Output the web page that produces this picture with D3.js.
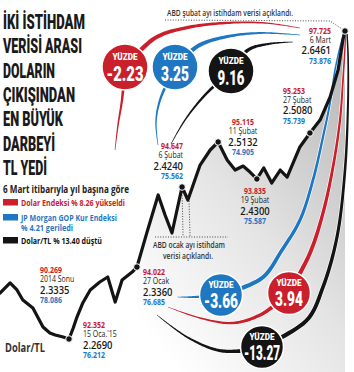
<!DOCTYPE html>
<html>
<head>
<meta charset="utf-8">
<script src="https://cdn.jsdelivr.net/npm/d3@7"></script>
<style>
html, body { margin: 0; padding: 0; background: #fff; }
svg { display: block; }
</style>
</head>
<body>
<svg id="chart" width="354" height="372"></svg>
<script>
// Dolar/TL serisi (gün: 2014 sonundan itibaren)
const gun = [0, 1.9, 3.2, 4.3, 6.2, 7.2, 8.1, 9.4, 10.4, 11.9, 13.0, 13.8, 14.5, 15.6, 17.0, 18.8, 20.3, 21.7, 23.0, 24.9,
    25.8, 27.7, 29.8, 31.1, 32.4, 34.3, 35.4, 37.7, 39.6, 41.1, 42.8, 44.3, 45.8, 47.1, 48.4, 49.7, 51.2, 52.8, 54.1, 56.5,
    58.4, 60.3, 62.2, 63.7, 64.6, 65.0];
const kur = [2.3253, 2.3376, 2.3290, 2.3167, 2.3070, 2.2947, 2.2837, 2.2763, 2.2739, 2.2714, 2.2690, 2.2825, 2.2959, 2.3131,
    2.3290, 2.3388, 2.3449, 2.3143, 2.3412, 2.3510, 2.3571, 2.3998, 2.4453, 2.4208, 2.3988, 2.4551, 2.4392, 2.4820, 2.5004,
    2.5102, 2.4881, 2.4759, 2.4808, 2.4734, 2.4649, 2.4784, 2.4600, 2.4759, 2.4673, 2.5041, 2.5212, 2.5371, 2.5653, 2.5983,
    2.6351, 2.6461];

// etiketli noktalar
const noktaIdx = [0, 10, 20, 25, 29, 34, 40, 45];
const etiketTarih = ["2014 Sonu", "15 Oca.'15", "27 Ocak", "6 Şubat", "11 Şubat", "19 Şubat", "27 Şubat", "6 Mart"];
const dolarEndeksi = [90.269, 92.352, 94.022, 94.647, 95.115, 93.835, 95.253, 97.725];
const dolarTL = [2.3335, 2.2690, 2.3360, 2.4240, 2.5132, 2.4300, 2.5080, 2.6461];
const jpMorgan = [78.086, 76.212, 76.685, 75.562, 74.905, 75.587, 75.739, 73.876];

// yüzde değişimler
const yuzdeUst = [-2.23, 3.25, 9.16];
const yuzdeAlt = [-3.66, 3.94, -13.27];

const baslik = ["İKİ İSTİHDAM", "VERİSİ ARASI", "DOLARIN", "ÇIKIŞINDAN", "EN BÜYÜK", "DARBEYİ", "TL YEDİ"];
const lejant = ["Dolar Endeksi % 8.26 yükseldi", "JP Morgan GOP Kur Endeksi", "% 4.21 geriledi", "Dolar/TL % 13.40 düştü"];

const KIRMIZI = "#c9202c", MAVI = "#1f77c2", SIYAH = "#141414";

const svg = d3.select("#chart");
const fmt = d3.formatLocale({decimal: ".", thousands: ",", grouping: [3], currency: ["", ""], minus: "-"});
const f2 = fmt.format(".2f"), f3 = fmt.format(".3f"), f4 = fmt.format(".4f");

const x = d3.scaleLinear().domain([0, 65]).range([0, 345]);
const y = d3.scaleLinear().domain([2.2690, 2.6461]).range([339, 31]);
const seri = gun.map((d, i) => ({g: d, v: kur[i]}));

// gradyan
const defs = svg.append("defs");
const grad = defs.append("linearGradient").attr("id", "alan")
    .attr("x1", 0.95).attr("y1", 0).attr("x2", 0.2).attr("y2", 1);
grad.append("stop").attr("offset", 0).attr("stop-color", "#b4b4b4");
grad.append("stop").attr("offset", 0.55).attr("stop-color", "#e4e4e4");
grad.append("stop").attr("offset", 1).attr("stop-color", "#ffffff");

// gri alan
svg.append("path")
    .datum(seri.slice(20))
    .attr("fill", "url(#alan)")
    .attr("d", d3.area().x(d => x(d.g)).y0(372).y1(d => y(d.v)));

// başlık
const bas = svg.append("g");
const basW = [82, 79, 52, 72, 60, 52, 44];
baslik.forEach(function (t, i) {
    bas.append("text")
        .attr("x", 3).attr("y", 29 + i * 24.35)
        .attr("font-family", "Roboto").attr("font-weight", 900).attr("font-size", 21)
        .attr("fill", "#1a1a1a")
        .attr("textLength", basW[i]).attr("lengthAdjust", "spacingAndGlyphs")
        .text(t);
});

// alt başlık ve lejant
svg.append("text").attr("x", 3).attr("y", 193)
    .attr("font-family", "Open Sans").attr("font-weight", 700).attr("font-size", 10)
    .attr("fill", "#222").attr("textLength", 126).attr("lengthAdjust", "spacingAndGlyphs")
    .text("6 Mart itibarıyla yıl başına göre");

const lej = [
    {t: lejant[0], c: KIRMIZI, y: 205.5, w: 104, r: true},
    {t: lejant[1], c: MAVI, y: 220.5, w: 96, r: true},
    {t: lejant[2], c: MAVI, y: 230.5, w: 52, r: false},
    {t: lejant[3], c: SIYAH, y: 243.5, w: 81, r: true}
];
lej.forEach(function (d) {
    if (d.r) {
        svg.append("rect").attr("x", 3).attr("y", d.y - 6.5).attr("width", 15).attr("height", 6.5).attr("fill", d.c);
    }
    svg.append("text").attr("x", 21).attr("y", d.y)
        .attr("font-family", "Open Sans").attr("font-weight", 700).attr("font-size", 9)
        .attr("fill", d.c).attr("textLength", d.w).attr("lengthAdjust", "spacingAndGlyphs")
        .text(d.t);
});

svg.append("text").attr("x", 5).attr("y", 352)
    .attr("font-family", "Open Sans").attr("font-weight", 700).attr("font-size", 12)
    .attr("fill", "#333").attr("textLength", 40).attr("lengthAdjust", "spacingAndGlyphs")
    .text("Dolar/TL");

// noktalı notlar
const nokta = {stroke: "#333", "stroke-width": 0.9, "stroke-dasharray": "1,1.6", fill: "none"};
function dotted(pts) {
    const p = svg.append("path").attr("d", d3.line()(pts));
    Object.keys(nokta).forEach(k => p.attr(k, nokta[k]));
}
const p6m = [x(gun[45]), y(kur[45])];
const p6s = [x(gun[25]), y(kur[25])];
dotted([[165, 20], [330, 21], p6m]);
dotted([[p6s[0], p6s[1] + 3], [p6s[0] + 1, 236]]);
dotted([[p6s[0] + 7, p6s[1] + 14], [p6s[0] + 8, 236]]);
dotted([[155, 237], [228, 237]]);

svg.append("text").attr("x", 167).attr("y", 16)
    .attr("font-family", "Open Sans").attr("font-weight", 600).attr("font-size", 9)
    .attr("fill", "#333").attr("textLength", 126).attr("lengthAdjust", "spacingAndGlyphs")
    .text("ABD şubat ayı istihdam verisi açıklandı.");
svg.append("text").attr("x", 189).attr("y", 248).attr("text-anchor", "middle")
    .attr("font-family", "Open Sans").attr("font-weight", 600).attr("font-size", 9)
    .attr("fill", "#333").attr("textLength", 72).attr("lengthAdjust", "spacingAndGlyphs")
    .text("ABD ocak ayı istihdam");
svg.append("text").attr("x", 188).attr("y", 259).attr("text-anchor", "middle")
    .attr("font-family", "Open Sans").attr("font-weight", 600).attr("font-size", 9)
    .attr("fill", "#333").attr("textLength", 50).attr("lengthAdjust", "spacingAndGlyphs")
    .text("verisi açıklandı.");

// sivrilen şeritler (kavisler)
const kavis = svg.append("g");
function serit(pts, w0, w1, renk) {
    const tmp = svg.append("path").attr("d", d3.line().curve(d3.curveCatmullRom.alpha(0.5))(pts));
    const node = tmp.node();
    const L = node.getTotalLength();
    const n = 80, sol = [], sag = [];
    for (let i = 0; i <= n; i++) {
        const t = i / n, l = t * L;
        const p = node.getPointAtLength(l);
        const a = node.getPointAtLength(Math.max(0, l - 0.6));
        const b = node.getPointAtLength(Math.min(L, l + 0.6));
        let dx = b.x - a.x, dy = b.y - a.y;
        const m = Math.hypot(dx, dy) || 1;
        dx /= m; dy /= m;
        const w = (w0 + (w1 - w0) * t) / 2;
        sol.push([p.x - dy * w, p.y + dx * w]);
        sag.push([p.x + dy * w, p.y - dx * w]);
    }
    tmp.remove();
    kavis.append("path")
        .attr("d", "M" + sol.concat(sag.reverse()).map(p => p[0].toFixed(2) + "," + p[1].toFixed(2)).join("L") + "Z")
        .attr("fill", renk).attr("stroke", "#fff").attr("stroke-width", 1.3)
        .attr("stroke-linejoin", "round").attr("paint-order", "stroke");
}

// baloncuk yerleşimi
const ust = [
    {c: KIRMIZI, cx: 125, cy: 67},
    {c: MAVI, cx: 175, cy: 67},
    {c: SIYAH, cx: 231, cy: 71}
];
const alt = [
    {c: MAVI, cx: 221, cy: 295},
    {c: KIRMIZI, cx: 289, cy: 293},
    {c: SIYAH, cx: 262, cy: 347}
];

// üst kavisler: 6 Mart etiketinden baloncuğa, sonra 6 Şubat'a doğru kuyruk
serit([[300, 28], [265, 23], [225, 23], [185, 28], [155, 38], [ust[0].cx, ust[0].cy]], 0.6, 5, KIRMIZI);
serit([[ust[0].cx, ust[0].cy], [122, 100], [118, 125], [115, 150]], 3.5, 0.6, KIRMIZI);
serit([[300, 35], [260, 33], [225, 37], [198, 46], [ust[1].cx, ust[1].cy]], 0.6, 5, MAVI);
serit([[ust[1].cx, ust[1].cy], [160, 100], [156, 122], [158, 145]], 3.5, 0.6, MAVI);
serit([[293, 42], [268, 44], [248, 50], [ust[2].cx, ust[2].cy]], 0.6, 5, SIYAH);
serit([[ust[2].cx, ust[2].cy], [205, 95], [185, 120], [171, 144]], 3.5, 0.6, SIYAH);

// alt kavisler: 27 Ocak etiketinden baloncuğa, oradan 6 Mart'a
serit([[177, 297], [195, 297], [alt[0].cx, alt[0].cy]], 0.5, 4.5, MAVI);
serit([[alt[0].cx, alt[0].cy], [262, 278], [282, 250], [300, 220], [313, 180], [323, 137], [330, 103], [335, 70], [340, 47], [p6m[0] - 1.5, p6m[1] + 3]], 4.5, 1.2, MAVI);
serit([[168, 307], [200, 318], [233, 323], [262, 314], [alt[1].cx, alt[1].cy]], 0.5, 4.5, KIRMIZI);
serit([[alt[1].cx, alt[1].cy], [310, 253], [323, 213], [333, 167], [340, 120], [343, 80], [345, 47], [p6m[0] + 0.5, p6m[1] + 3]], 4.5, 1.2, KIRMIZI);
serit([[157, 315], [187, 337], [217, 350], [240, 351], [alt[2].cx, alt[2].cy]], 0.5, 4.5, SIYAH);
serit([[alt[2].cx, alt[2].cy], [307, 320], [323, 287], [337, 237], [345, 170], [348, 103], [348, 53], [p6m[0] + 2, p6m[1] + 3]], 4.5, 1.4, SIYAH);

// baloncuklar
function baloncuk(d, v, r, fs, tw) {
    const g = svg.append("g").attr("transform", "translate(" + d.cx + "," + d.cy + ")");
    g.append("circle").attr("r", r).attr("fill", d.c).attr("stroke", "#fff").attr("stroke-width", 1.5);
    g.append("text").attr("y", -7).attr("text-anchor", "middle")
        .attr("font-family", "Roboto").attr("font-weight", 900).attr("font-size", 8.5)
        .attr("fill", "#fff").attr("textLength", 25).attr("lengthAdjust", "spacingAndGlyphs")
        .text("YÜZDE");
    g.append("text").attr("y", r * 0.62).attr("text-anchor", "middle")
        .attr("font-family", "Roboto").attr("font-weight", 900).attr("font-size", fs)
        .attr("fill", "#fff").attr("textLength", tw).attr("lengthAdjust", "spacingAndGlyphs")
        .text(f2(v));
}
const ustW = [37, 28, 27], altW = [34, 28, 36];
ust.forEach((d, i) => baloncuk(d, yuzdeUst[i], 23, 21, ustW[i]));
alt.forEach((d, i) => baloncuk(d, yuzdeAlt[i], 21.5, 19.5, altW[i]));

// Dolar/TL çizgisi
svg.append("path")
    .datum(seri)
    .attr("fill", "none").attr("stroke", SIYAH).attr("stroke-width", 3.2)
    .attr("stroke-linejoin", "round").attr("stroke-linecap", "round")
    .attr("d", d3.line().x(d => x(d.g)).y(d => y(d.v)));

svg.selectAll("circle.nokta")
    .data(noktaIdx.slice(1))
    .enter().append("circle").attr("class", "nokta")
    .attr("cx", i => x(gun[i])).attr("cy", i => y(kur[i]))
    .attr("r", 3.3).attr("fill", SIYAH).attr("stroke", "#fff").attr("stroke-width", 1);

// veri etiketleri (x, kırmızı taban çizgisi, hizalama)
const etiketYer = [
    [40, 273, "start"], [83, 328, "start"], [143, 275, "start"], [183, 149, "end"],
    [243, 125, "middle"], [255, 194, "middle"], [283, 93.5, "start"], [331, 33.5, "end"]
];
const SX = 0.82;
etiketYer.forEach(function (p, i) {
    const g = svg.append("g").attr("transform", "translate(" + p[0] + "," + p[1] + ") scale(" + SX + ",1)")
        .attr("text-anchor", p[2]).attr("font-family", "Open Sans");
    g.append("text").attr("font-size", 8.5).attr("font-weight", 700).attr("fill", KIRMIZI).text(f3(dolarEndeksi[i]));
    g.append("text").attr("y", 9.5).attr("font-size", 8.5).attr("fill", "#222").text(etiketTarih[i]);
    g.append("text").attr("y", 21).attr("font-size", 11.5).attr("font-weight", 600).attr("fill", "#1a1a1a").text(f4(dolarTL[i]));
    g.append("text").attr("y", 30.5).attr("font-size", 8.5).attr("font-weight", 700).attr("fill", MAVI).text(f3(jpMorgan[i]));
});
</script>
</body>
</html>
